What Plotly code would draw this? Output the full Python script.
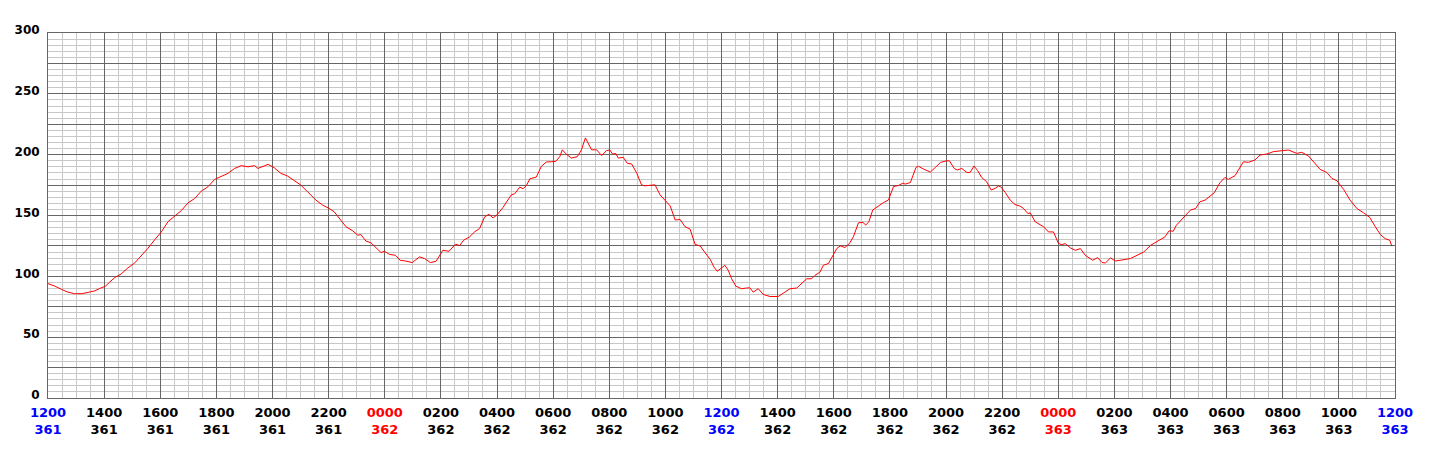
import plotly.graph_objects as go

# time axis: hours elapsed since 1200 on day 361
hours = [
    0.00, 0.24, 0.48, 0.71, 0.95, 1.19, 1.43, 1.66, 1.84, 2.04, 2.20, 2.38, 2.61, 2.85,
    3.09, 3.33, 3.56, 3.80, 4.04, 4.28, 4.51, 4.75, 4.99, 5.23, 5.46, 5.70, 5.94, 6.18,
    6.41, 6.65, 6.89, 7.13, 7.36, 7.48, 7.84,
    8.06, 8.30, 8.54, 8.77, 9.01, 9.25, 9.55, 9.79, 10.02, 10.20, 10.38, 10.62, 10.86,
    11.04, 11.15, 11.33, 11.51, 11.69, 11.87, 11.99, 12.17, 12.38, 12.55, 12.74, 12.98,
    13.24, 13.42, 13.63, 13.83, 14.07, 14.29, 14.52, 14.67, 14.81, 15.02, 15.20, 15.38,
    15.56, 15.71, 15.86, 16.00,
    16.21, 16.39, 16.51, 16.63, 16.81, 16.93, 17.05, 17.17, 17.40, 17.58, 17.76, 17.94,
    18.10, 18.24, 18.33, 18.45, 18.65, 18.86, 19.01, 19.15, 19.29, 19.37, 19.55, 19.73,
    19.90, 20.02, 20.12, 20.23, 20.32, 20.50, 20.64, 20.80, 20.98, 21.15, 21.27, 21.63,
    21.81, 21.99, 22.17, 22.35, 22.52, 22.70, 22.88, 23.06, 23.24, 23.42, 23.60,
    23.73, 23.85, 24.00, 24.12, 24.24, 24.36, 24.51, 24.71, 24.89, 25.01, 25.13, 25.31,
    25.49, 25.73, 26.02, 26.20, 26.44, 26.68, 26.86, 27.04, 27.21, 27.33, 27.51, 27.63,
    27.81, 27.93, 28.11, 28.23, 28.40, 28.56, 28.70, 28.88, 29.04, 29.14, 29.25, 29.39,
    29.60, 29.77, 29.95, 30.13, 30.31, 30.46, 30.55, 30.73, 30.93, 31.02, 31.20, 31.44,
    31.62,
    31.81, 32.00, 32.12, 32.29, 32.40, 32.56, 32.74, 32.86, 33.00, 33.13, 33.27, 33.45,
    33.61, 33.75, 33.87, 33.95, 34.11, 34.29, 34.46, 34.64, 34.76, 34.92, 35.00, 35.18,
    35.36, 35.48, 35.65, 35.83, 36.01, 36.13, 36.25, 36.43, 36.61, 36.79, 36.96, 37.23,
    37.40, 37.56, 37.68, 37.86, 38.04, 38.27, 38.57, 38.81, 39.05, 39.29,
    39.62, 39.80, 39.95, 40.10, 40.21, 40.39, 40.55, 40.71, 40.90, 41.05, 41.23, 41.40,
    41.56, 41.76, 41.94, 42.06, 42.30, 42.42, 42.60, 42.77, 43.01, 43.19, 43.43, 43.67,
    43.90, 44.20, 44.50, 44.68, 44.92, 45.15, 45.33, 45.57, 45.75, 45.93, 46.17, 46.40,
    46.64, 46.88, 47.10, 47.30, 47.48, 47.65, 47.81, 47.89,
]

level = [
    94.0, 92.0, 89.3, 87.0, 85.7, 85.7, 86.8, 88.0, 90.0, 91.8, 95.3, 99.0, 102.0, 107.0,
    111.0, 117.0, 123.0, 130.0, 136.5, 145.0, 149.5, 154.0, 160.4, 164.0, 170.0, 173.6, 179.7, 182.0,
    184.6, 188.7, 191.0, 190.0, 191.0, 188.7, 192.0,
    189.3, 184.6, 182.4, 179.0, 175.0, 169.5, 162.6, 158.5, 155.8, 153.0, 147.5, 140.7, 137.4,
    133.8, 134.3, 129.0, 127.5, 123.6, 119.5, 120.6, 118.0, 117.3, 113.2, 112.6, 111.3,
    116.0, 114.6, 111.3, 112.4, 121.4, 120.6, 126.4, 125.3, 129.7, 132.4, 136.5, 139.3,
    148.9, 151.0, 148.0, 150.5,
    156.5, 162.8, 167.0, 167.8, 173.3, 172.0, 174.7, 180.2, 181.5, 190.4, 194.0, 194.2,
    194.5, 198.6, 204.0, 200.8, 197.2, 198.3, 204.0, 213.8, 206.9, 204.0, 204.0, 199.2,
    203.3, 203.9, 200.5, 201.0, 197.2, 197.8, 193.0, 192.3, 184.8, 175.2, 174.4, 175.2,
    167.0, 162.0, 157.9, 146.3, 146.8, 140.8, 138.8, 126.2, 125.0, 119.3, 113.8,
    107.7, 104.1, 106.9, 109.1, 105.0, 98.0, 92.0, 89.8, 90.4, 90.6, 87.0, 89.8,
    85.1, 83.4, 83.4, 86.2, 89.8, 90.4, 93.9, 98.0, 98.0, 100.8, 103.5, 109.1,
    110.5, 116.0, 122.9, 125.0, 123.7, 127.0, 132.5, 144.0, 144.3, 142.1, 144.9, 154.5,
    157.9, 160.6, 162.8, 173.8, 174.7, 176.6, 175.8, 177.1, 189.5, 190.4, 188.2, 185.7,
    189.5,
    193.7, 194.8, 195.0, 188.7, 187.4, 188.7, 185.4, 185.4, 190.7, 186.8, 181.3, 177.7,
    170.9, 172.3, 174.2, 173.6, 169.0, 162.6, 159.0, 157.7, 155.8, 151.6, 152.2, 144.8,
    142.0, 140.7, 136.5, 136.5, 126.9, 126.1, 126.9, 123.4, 121.4, 122.8, 117.3, 113.2,
    115.4, 111.3, 111.0, 115.1, 112.6, 113.2, 114.6, 117.3, 120.0, 125.5,
    129.7, 132.4, 137.4, 137.1, 142.0, 146.2, 150.3, 154.4, 155.8, 161.3, 162.6, 165.4,
    168.7, 176.9, 181.3, 179.7, 182.7, 187.4, 194.2, 193.7, 195.6, 199.7, 200.5, 202.5,
    203.3, 203.8, 201.1, 201.9, 198.9, 192.9, 187.9, 185.4, 180.5, 178.6, 171.4, 162.6,
    155.8, 152.2, 148.4, 140.7, 134.3, 131.0, 129.7, 124.7,
]

# x tick labels (time of day / day number), every 2 hours
tick_hours = list(range(0, 49, 2))
tick_times = ["1200", "1400", "1600", "1800", "2000", "2200", "0000", "0200", "0400",
              "0600", "0800", "1000", "1200", "1400", "1600", "1800", "2000", "2200",
              "0000", "0200", "0400", "0600", "0800", "1000", "1200"]
tick_days = ["361"] * 6 + ["362"] * 12 + ["363"] * 7

# y ticks
y_grid_major = list(range(0, 301, 25))
y_labels = [str(v) if v % 50 == 0 else "" for v in y_grid_major]


def colored(t, d):
    if t == "1200":
        c = "#0000ff"
    elif t == "0000":
        c = "#ff0000"
    else:
        c = "#000000"
    return f'<span style="color:{c}">{t}</span><br><span style="color:{c}">{d}</span>'


x_ticktext = [colored(t, d) for t, d in zip(tick_times, tick_days)]

MAJOR = "#666666"
MINOR = "#c8c8c8"

fig = go.Figure()
fig.add_trace(go.Scatter(
    x=hours, y=level, mode="lines",
    line=dict(color="#ff0000", width=1),
    hoverinfo="skip", showlegend=False,
))

# page body has an 8px margin, so offsets are reduced accordingly
fig.update_layout(
    width=1433, height=462,
    margin=dict(l=40, r=46, t=25, b=72),
    paper_bgcolor="white", plot_bgcolor="white",
    font=dict(family="DejaVu Sans", color="black"),
)

fig.update_xaxes(
    range=[0, 48], automargin=False,
    tickmode="array", tickvals=tick_hours, ticktext=x_ticktext,
    showgrid=True, gridcolor=MAJOR, gridwidth=1,
    minor=dict(dtick=0.5, tick0=0, showgrid=True, gridcolor=MINOR, gridwidth=1),
    showline=True, linecolor=MAJOR, linewidth=1, mirror=True,
    zeroline=False, ticks="",
    tickfont=dict(family="DejaVu Sans", size=13, weight="bold"),
    tickangle=0, ticklabelstandoff=2,
)
fig.update_yaxes(
    range=[0, 300], automargin=False,
    tickmode="array", tickvals=y_grid_major, ticktext=y_labels,
    showgrid=True, gridcolor=MAJOR, gridwidth=1,
    minor=dict(dtick=5, tick0=0, showgrid=True, gridcolor=MINOR, gridwidth=1),
    showline=True, linecolor=MAJOR, linewidth=1, mirror=True,
    zeroline=False, ticks="",
    tickfont=dict(family="DejaVu Sans", size=12, weight="bold", color="black"),
    ticklabelshift=-3, ticklabelstandoff=5,
)

fig.write_html("out.html")
